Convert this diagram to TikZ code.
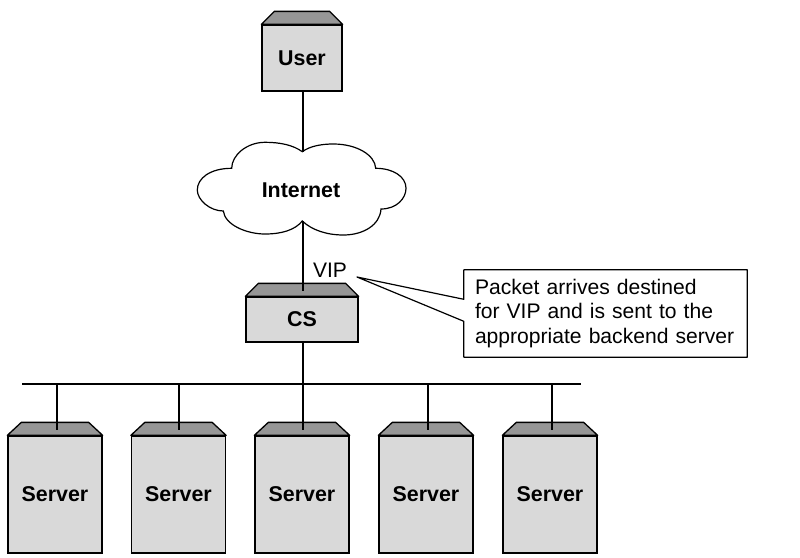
\documentclass[tikz,border=0pt]{standalone}
\usepackage{fontspec}
\setmainfont{Liberation Sans}
\usetikzlibrary{calc}

\definecolor{boxgray}{HTML}{D9D9D9}
\definecolor{roofgray}{HTML}{969696}

\tikzset{
	wire/.style={line width=1.7pt, black},
	unitbox/.style={draw=black, line width=1.3pt, fill=boxgray, font=\bfseries\fontsize{21.4}{24}\selectfont, inner sep=0pt},
	roofshape/.style={draw=black, line width=1.3pt, fill=roofgray, line join=round},
}

% roof on top of a box, #2 is how far it is pulled in
\newcommand{\drawroof}[2]{
	\filldraw[roofshape] (#1.north west) -- ++(#2,-13) -- ($(#1.north east)+(-#2,-13)$) -- (#1.north east) -- cycle;
}

\begin{document}
\begin{tikzpicture}[x=1pt, y=-1pt]
	\useasboundingbox (0,0) rectangle (800,557);

	% draw user and cs boxes
	\node[unitbox, minimum width=80pt, minimum height=66pt] (user) at (302,58) {User};
	\drawroof{user}{13}
	\node[unitbox, minimum width=112pt, minimum height=45pt] (cs) at (302,319.5) {CS};
	\drawroof{cs}{13}

	% draw the cloud
	\draw[line width=1.2pt, fill=white] (302.3,151.7)
		.. controls (293,145) and (280,142.3) .. (265,142.3)
		.. controls (247,142.3) and (231.7,155) .. (231.7,168.3)
		.. controls (210,168.3) and (197.3,178.3) .. (197.3,190)
		.. controls (197.3,200) and (210,211) .. (223.3,211)
		.. controls (225,225) and (246.7,234) .. (265,234)
		.. controls (281.7,234) and (295,230) .. (302.3,221)
		.. controls (311.7,230) and (326.7,235) .. (343.3,235)
		.. controls (363.3,235) and (380,225) .. (381,209)
		.. controls (396.7,209) and (406,198.3) .. (406,188.3)
		.. controls (406,176.7) and (393.3,168.3) .. (375.7,168.3)
		.. controls (375,155) and (356.7,144) .. (333.3,144)
		.. controls (321.7,144) and (310,146) .. (302.3,151.7) -- cycle;
	\node[font=\bfseries\fontsize{21.4}{24}\selectfont, inner sep=0pt] (internet) at (301,190) {Internet};
	\coordinate (usertap) at (303,91);
	\coordinate (cloudtop) at (303,151.7);
	\coordinate (cloudbottom) at (303,221);

	% draw the links down to the bus
	\coordinate (cstap) at (303,291);
	\coordinate (csfoot) at (303,342);
	\coordinate (busleft) at (22,383.5);
	\coordinate (busright) at (581,383.5);
	\coordinate (busmid) at (303,383.5);
	\draw[wire] (usertap) -- (cloudtop);
	\draw[wire] (cloudbottom) -- (cstap);
	\draw[wire] (csfoot) -- (busmid);
	\draw[line width=2pt] (busleft) -- (busright);

	% draw the servers
	\foreach \n/\x/\t in {a/55/57,b/178.5/179,c/302/303,d/426/428,e/550/552} {
		\node[unitbox, minimum width=94pt, minimum height=117pt] (server\n) at (\x,494.5) {Server};
		\drawroof{server\n}{14}
		\coordinate (bus\n) at (\t,383.5);
		\coordinate (tap\n) at (\t,430);
		\draw[wire] (bus\n) -- (tap\n);
	}

	% draw the vip label and the note
	\node[font=\fontsize{21}{24}\selectfont, inner sep=0pt] (vip) at (330,270) {VIP};
	\node[minimum width=283pt, minimum height=87pt, text width=261pt, inner xsep=11pt, inner ysep=0pt, align=left,
		font=\fontsize{21.1}{24.5}\selectfont] (note) at (605.5,313.5)
		{Packet arrives destined\\for VIP and is sent to the\\appropriate backend server};
	\coordinate (viptip) at (357,277);
	\draw[line width=1.2pt, line join=round] ($(note.north west)+(0,29.5)$) -- (viptip) -- ($(note.north west)+(0,51.5)$)
		-- (note.south west) -- (note.south east) -- (note.north east) -- (note.north west) -- cycle;
\end{tikzpicture}
\end{document}
